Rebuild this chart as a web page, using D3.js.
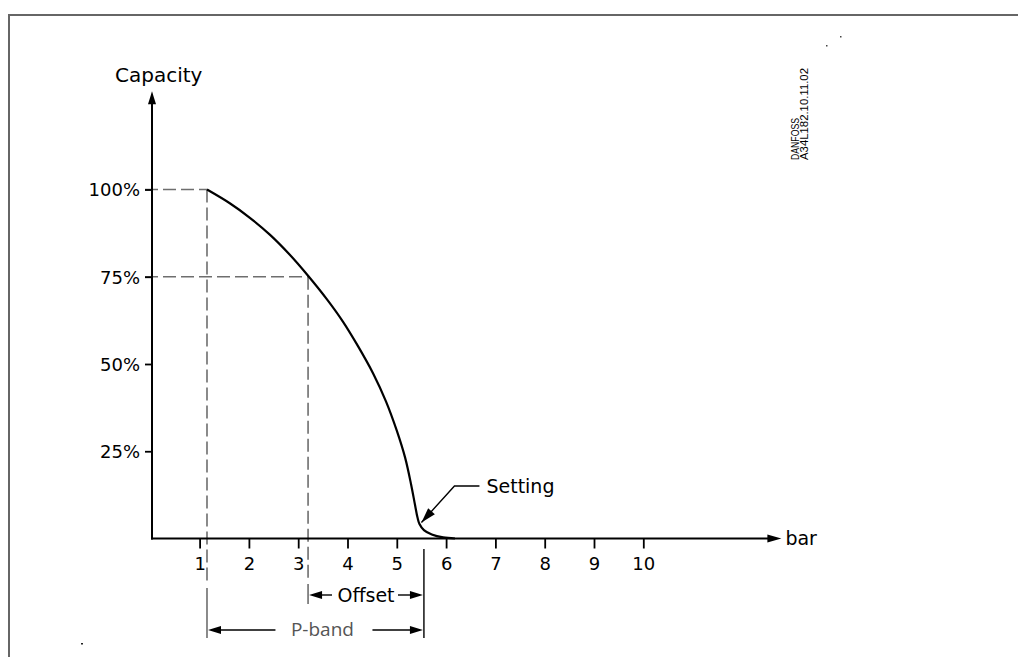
<!DOCTYPE html>
<html>
<head>
<meta charset="utf-8">
<script src="https://cdn.jsdelivr.net/npm/d3@7"></script>
<style>
  html, body { margin: 0; padding: 0; background: #fff; }
  svg { display: block; }
</style>
</head>
<body>
<svg id="chart" width="1019" height="657"></svg>
<script>
// ---- data ----
const capacityTicks = [25, 50, 75, 100];
const capacityLabels = ["25%", "50%", "75%", "100%"];
const barTicks = [1, 2, 3, 4, 5, 6, 7, 8, 9, 10];
const curveBar      = [1.15, 1.62, 2.02, 2.43, 2.83, 3.20, 3.58, 3.91, 4.21, 4.52, 4.78, 5.00, 5.17, 5.29, 5.37, 5.42, 5.46, 5.55, 5.71, 5.94, 6.18];
const curveCapacity = [100, 96.0, 91.9, 87.0, 81.3, 75.3, 68.6, 62.1, 55.2, 47.3, 39.3, 30.9, 23.1, 15.5, 9.6, 6.0, 4.15, 2.4, 1.15, 0.3, 0];
const pBandStart = 1.15;   // bar at 100 %
const offsetStart = 3.2;   // bar at 75 %
const settingBar = 5.55;   // setting point
const settingTip = [5.5, 4.6];
const axisXMax = 12.72;
const axisYMax = 127;

// ---- layout ----
const svg = d3.select("#chart");
const x = d3.scaleLinear().domain([0, 10]).range([150.3, 643.3]);
const y = d3.scaleLinear().domain([0, 100]).range([538.5, 189.5]);
const x0 = 152;
const y0 = y(0);
const mainFont = "'DejaVu Sans', sans-serif";

svg.append("rect").attr("width", 1019).attr("height", 657).attr("fill", "#fff");

// frame
svg.append("path")
  .attr("d", "M9,657 L9,15 L1018,15")
  .attr("fill", "none").attr("stroke", "#666").attr("stroke-width", 2);

function arrowHead(tipX, tipY, fromX, fromY, len, half) {
  const dx = tipX - fromX, dy = tipY - fromY;
  const L = Math.hypot(dx, dy);
  const ux = dx / L, uy = dy / L;
  const bx = tipX - ux * len, by = tipY - uy * len;
  const px = -uy * half, py = ux * half;
  return `M${tipX},${tipY}L${bx + px},${by + py}L${bx - px},${by - py}Z`;
}

// dashed guide lines
const dashColor = "#6e6e6e";
const g = svg.append("g");
g.append("line").attr("x1", x0 - 7).attr("x2", x(pBandStart)).attr("y1", y(100)).attr("y2", y(100))
  .attr("stroke", dashColor).attr("stroke-width", 1.6).attr("stroke-dasharray", "13,5");
g.append("line").attr("x1", x0 - 7).attr("x2", x(offsetStart)).attr("y1", y(75)).attr("y2", y(75))
  .attr("stroke", dashColor).attr("stroke-width", 1.6).attr("stroke-dasharray", "13,5");
g.append("line").attr("x1", x(pBandStart)).attr("x2", x(pBandStart)).attr("y1", y(100)).attr("y2", 584)
  .attr("stroke", dashColor).attr("stroke-width", 1.6).attr("stroke-dasharray", "13,5");
g.append("line").attr("x1", x(pBandStart)).attr("x2", x(pBandStart)).attr("y1", 588).attr("y2", 638)
  .attr("stroke", dashColor).attr("stroke-width", 1.6);
g.append("line").attr("x1", x(offsetStart)).attr("x2", x(offsetStart)).attr("y1", y(75)).attr("y2", 580)
  .attr("stroke", dashColor).attr("stroke-width", 1.6).attr("stroke-dasharray", "13,5");
g.append("line").attr("x1", x(offsetStart)).attr("x2", x(offsetStart)).attr("y1", 584).attr("y2", 604)
  .attr("stroke", dashColor).attr("stroke-width", 1.6);
// setting extension line
g.append("line").attr("x1", x(settingBar)).attr("x2", x(settingBar)).attr("y1", 549).attr("y2", 638)
  .attr("stroke", "#111").attr("stroke-width", 1.5);

// axes lines with arrows
svg.append("line").attr("x1", x0).attr("x2", x0).attr("y1", y0 + 1).attr("y2", y(axisYMax) + 8)
  .attr("stroke", "#000").attr("stroke-width", 2);
svg.append("path").attr("d", arrowHead(x0, y(axisYMax) - 4, x0, y0, 13, 4)).attr("fill", "#000");
svg.append("line").attr("x1", x0 - 1).attr("x2", x(axisXMax) - 8).attr("y1", y0).attr("y2", y0)
  .attr("stroke", "#000").attr("stroke-width", 2);
svg.append("path").attr("d", arrowHead(x(axisXMax) + 4, y0, x0, y0, 14, 4)).attr("fill", "#000");

// x axis ticks
const xAxis = d3.axisBottom(x).tickValues(barTicks).tickSize(10).tickPadding(9).tickFormat(d3.format("d"));
const gx = svg.append("g").attr("transform", `translate(0,${y0})`).call(xAxis);
gx.select(".domain").remove();
gx.selectAll(".tick line").attr("stroke", "#000").attr("stroke-width", 1.8);
gx.selectAll(".tick text").attr("font-family", mainFont).attr("font-size", 18).attr("fill", "#000");

// y axis ticks
const yAxis = d3.axisLeft(y).tickValues(capacityTicks).tickSize(7).tickPadding(5)
  .tickFormat(d => capacityLabels[capacityTicks.indexOf(d)]);
const gy = svg.append("g").attr("transform", `translate(${x0},0)`).call(yAxis);
gy.select(".domain").remove();
gy.selectAll(".tick line").attr("stroke", "#000").attr("stroke-width", 1.8);
gy.selectAll(".tick text").attr("font-family", mainFont).attr("font-size", 18).attr("fill", "#000").attr("dy", "0.36em");

// axis titles
svg.append("text").attr("x", 115).attr("y", 82).text("Capacity")
  .attr("font-family", mainFont).attr("font-size", 20).attr("fill", "#000");
svg.append("text").attr("x", x(axisXMax) + 8).attr("y", y0 + 6).text("bar")
  .attr("font-family", mainFont).attr("font-size", 19).attr("fill", "#000");

// curve
const pts = curveBar.map((b, i) => [b, curveCapacity[i]]);
const line = d3.line().x(d => x(d[0])).y(d => y(d[1])).curve(d3.curveCatmullRom.alpha(0.5));
svg.append("path").attr("d", line(pts)).attr("fill", "none").attr("stroke", "#000")
  .attr("stroke-width", 2.2).attr("stroke-linejoin", "round");

// Setting leader
const tipX = x(settingTip[0]), tipY = y(settingTip[1]);
const kneeX = tipX + 33, kneeY = tipY - 36.5;
svg.append("path").attr("d", `M${tipX},${tipY}L${kneeX},${kneeY}L${kneeX + 25},${kneeY}`)
  .attr("fill", "none").attr("stroke", "#000").attr("stroke-width", 1.4);
svg.append("path").attr("d", arrowHead(tipX, tipY, kneeX, kneeY, 15, 4.5)).attr("fill", "#000");
svg.append("text").attr("x", kneeX + 32).attr("y", kneeY + 7).text("Setting")
  .attr("font-family", mainFont).attr("font-size", 19).attr("fill", "#000");

// Offset dimension
const offY = 595;
const oL = x(offsetStart), oR = x(settingBar), oMid = (oL + oR) / 2;
svg.append("line").attr("x1", oL + 4).attr("x2", oMid - 34).attr("y1", offY).attr("y2", offY).attr("stroke", "#000").attr("stroke-width", 1.4);
svg.append("line").attr("x1", oMid + 32).attr("x2", oR - 4).attr("y1", offY).attr("y2", offY).attr("stroke", "#000").attr("stroke-width", 1.4);
svg.append("path").attr("d", arrowHead(oL + 1, offY, oR, offY, 13, 4)).attr("fill", "#000");
svg.append("path").attr("d", arrowHead(oR - 1, offY, oL, offY, 13, 4)).attr("fill", "#000");
svg.append("text").attr("x", oMid).attr("y", offY + 7).attr("text-anchor", "middle").text("Offset")
  .attr("font-family", mainFont).attr("font-size", 19).attr("fill", "#000");

// P-band dimension
const pY = 630;
const pL = x(pBandStart), pR = x(settingBar), pMid = (pL + pR) / 2;
svg.append("line").attr("x1", pL + 4).attr("x2", pMid - 40).attr("y1", pY).attr("y2", pY).attr("stroke", "#000").attr("stroke-width", 1.4);
svg.append("line").attr("x1", pMid + 57).attr("x2", pR - 4).attr("y1", pY).attr("y2", pY).attr("stroke", "#000").attr("stroke-width", 1.4);
svg.append("path").attr("d", arrowHead(pL + 1, pY, pR, pY, 13, 4)).attr("fill", "#000");
svg.append("path").attr("d", arrowHead(pR - 1, pY, pL, pY, 13, 4)).attr("fill", "#000");
svg.append("text").attr("x", pMid + 7).attr("y", pY + 6).attr("text-anchor", "middle").text("P-band")
  .attr("font-family", "'Open Sans', sans-serif").attr("font-size", 19).attr("fill", "#555");

// drawing reference code
const ref = svg.append("g").attr("font-family", "'Liberation Sans', Arial, sans-serif").attr("font-size", 10).attr("fill", "#000");
ref.append("text").attr("transform", "translate(799,160) rotate(-90)").text("DANFOSS")
  .attr("textLength", 42).attr("lengthAdjust", "spacingAndGlyphs");
ref.append("text").attr("transform", "translate(808,160) rotate(-90)").text("A34L182.10.11.02")
  .attr("textLength", 92).attr("lengthAdjust", "spacingAndGlyphs");

// specks
svg.append("rect").attr("x", 840).attr("y", 36).attr("width", 1.5).attr("height", 1.5).attr("fill", "#444");
svg.append("rect").attr("x", 826).attr("y", 45).attr("width", 1.5).attr("height", 1.5).attr("fill", "#444");
svg.append("rect").attr("x", 81).attr("y", 643).attr("width", 2).attr("height", 1.5).attr("fill", "#222");
</script>
</body>
</html>
